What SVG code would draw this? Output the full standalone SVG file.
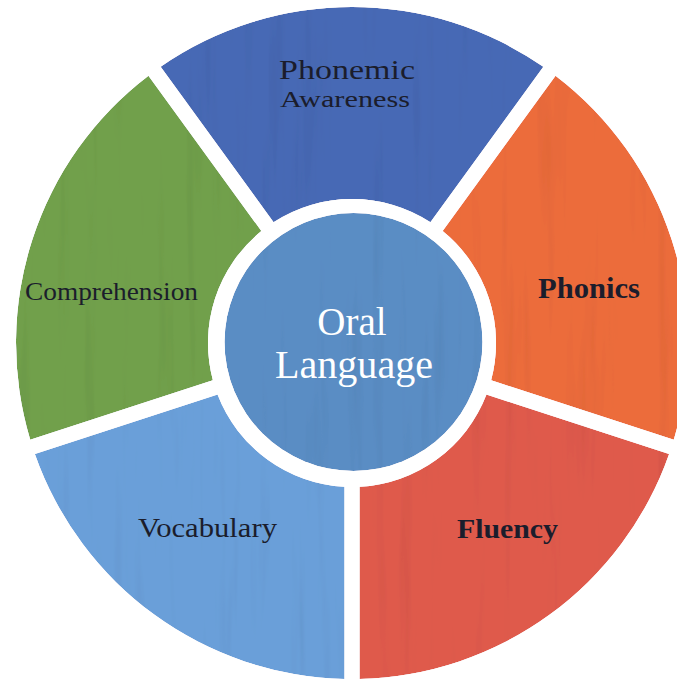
<svg xmlns="http://www.w3.org/2000/svg" width="677" height="679" viewBox="0 0 677 679">
<defs>
<filter id="tex" x="-5%" y="-5%" width="110%" height="110%">
<feTurbulence type="fractalNoise" baseFrequency="0.07 0.004" numOctaves="3" seed="5" result="noise"/>
<feColorMatrix in="noise" type="saturate" values="0" result="g"/>
<feComponentTransfer in="g" result="g2">
<feFuncR type="linear" slope="0.35" intercept="0.84"/>
<feFuncG type="linear" slope="0.35" intercept="0.84"/>
<feFuncB type="linear" slope="0.35" intercept="0.84"/>
<feFuncA type="linear" slope="0" intercept="1"/>
</feComponentTransfer>
<feBlend in="SourceGraphic" in2="g2" mode="multiply" result="b"/>
<feComposite in="b" in2="SourceGraphic" operator="in"/>
</filter>
</defs>
<style>
.seg{filter:url(#tex);stroke:none}
.lbl{font-family:"Liberation Serif","Times New Roman",serif;fill:#1b1d2c;text-anchor:middle}
.ctr{font-family:"Liberation Serif","Times New Roman",serif;fill:#ffffff;text-anchor:middle;font-size:39px}
</style>
<rect width="677" height="679" fill="#ffffff"/>
<g id="node-phonemic-awareness">
<path class="seg" fill="#4769b5" d="M160.61,66.84 A336,336 0 0 1 543.39,66.84 L430.44,222.24 A144,144 0 0 0 273.56,222.24 Z"/>
<text class="lbl" x="347" y="79" font-size="27" textLength="136" lengthAdjust="spacingAndGlyphs">Phonemic</text>
<text class="lbl" x="345" y="107" font-size="24" textLength="130" lengthAdjust="spacingAndGlyphs">Awareness</text>
</g>
<g id="node-phonics">
<path class="seg" fill="#ec6c3b" d="M555.52,75.64 A336,336 0 0 1 673.79,439.67 L491.09,380.30 A144,144 0 0 0 442.59,231.07 Z"/>
<text class="lbl" x="589" y="298" font-size="30" font-weight="bold" textLength="102" lengthAdjust="spacingAndGlyphs" fill="#2a1412">Phonics</text>
</g>
<g id="node-fluency">
<path class="seg" fill="#df5a4c" d="M669.15,453.95 A336,336 0 0 1 359.5,678.92 L359.5,486.80 A144,144 0 0 0 486.45,394.58 Z"/>
<text class="lbl" x="507.5" y="538" font-size="28" font-weight="bold" textLength="101" lengthAdjust="spacingAndGlyphs" fill="#2a1412">Fluency</text>
</g>
<g id="node-vocabulary">
<path class="seg" fill="#6a9fd9" d="M344.5,678.92 A336,336 0 0 1 34.85,453.95 L217.55,394.58 A144,144 0 0 0 344.5,486.80 Z"/>
<text class="lbl" x="207.5" y="537" font-size="27" textLength="139" lengthAdjust="spacingAndGlyphs">Vocabulary</text>
</g>
<g id="node-comprehension">
<path class="seg" fill="#71a04b" d="M30.21,439.67 A336,336 0 0 1 148.48,75.68 L261.41,231.07 A144,144 0 0 0 212.91,380.30 Z"/>
<text class="lbl" x="111.5" y="300" font-size="26" textLength="173" lengthAdjust="spacingAndGlyphs" fill="#1a2a1c">Comprehension</text>
</g>
<g id="node-oral-language">
<circle class="seg" cx="353.5" cy="342" r="129" fill="#5a8dc4"/>
<text class="ctr" x="352" y="335">Oral</text>
<text class="ctr" x="354" y="378" textLength="158" lengthAdjust="spacingAndGlyphs">Language</text>
</g>
<g id="connectors"/>
</svg>
